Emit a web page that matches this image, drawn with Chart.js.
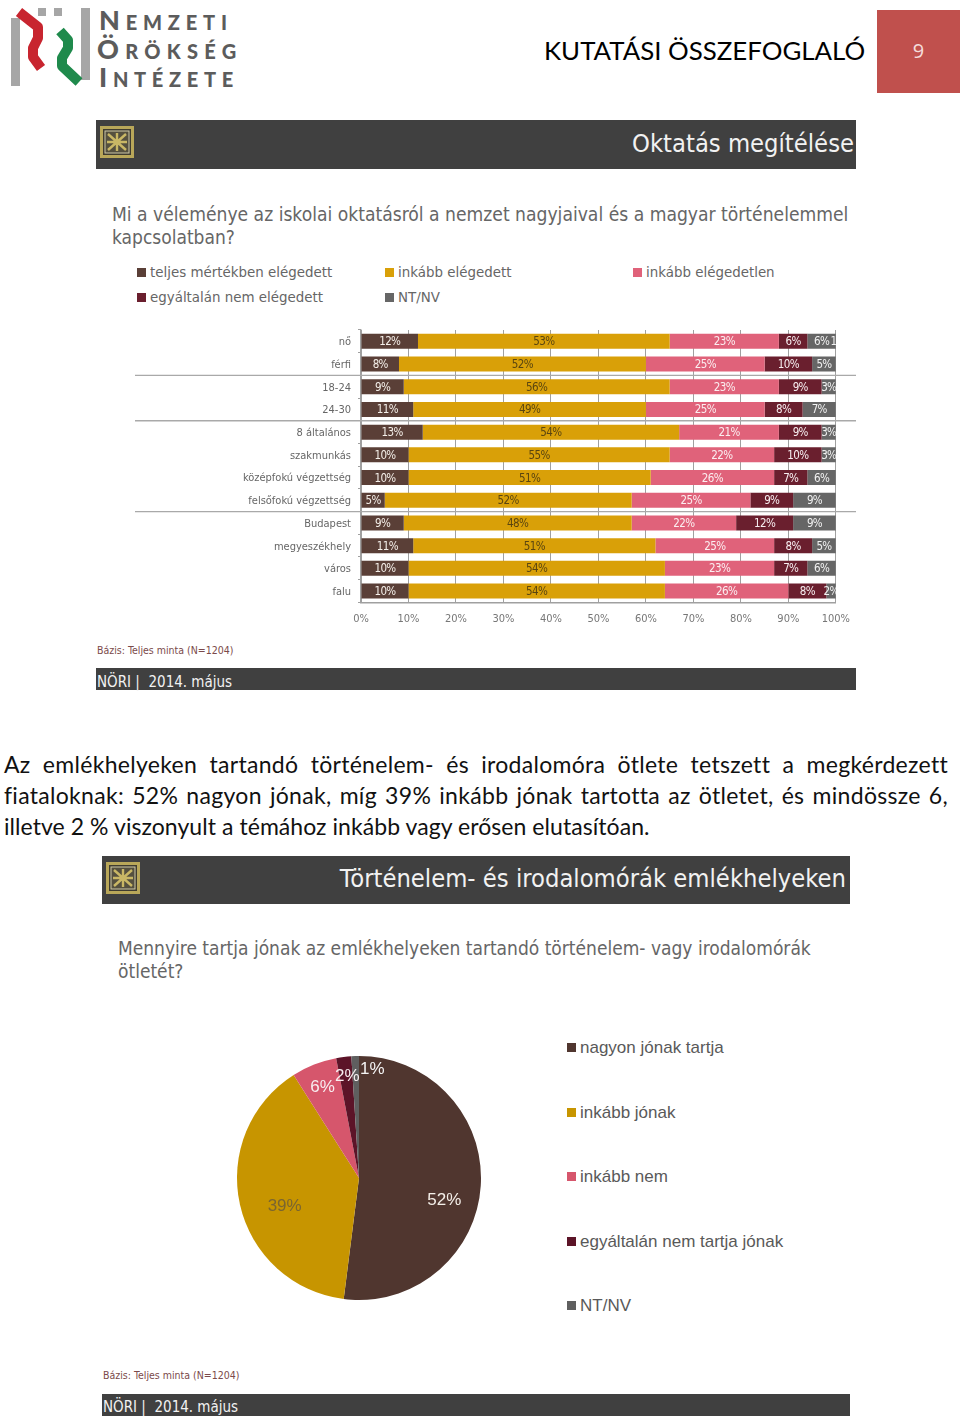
<!DOCTYPE html>
<html lang="hu">
<head>
<meta charset="utf-8">
<title>Kutatási összefoglaló</title>
<script src="https://cdn.jsdelivr.net/npm/chart.js@4"></script>
<style>
html, body { margin: 0; padding: 0; background: #fff; }
#page { position: relative; width: 960px; height: 1416px; overflow: hidden; font-family: "DejaVu Sans Condensed", "DejaVu Sans", sans-serif; }
#page > * { position: absolute; }
.t { white-space: nowrap; line-height: 1; }
.bar { background: #404040; }
.title { color: #f2f2f2; font-size: 25.3px; }
.question { color: #666; font-size: 19px; }
.foot { color: #f2f2f2; font-size: 15px; }
.base { color: #7b4a4a; font-size: 10.5px; }
.line { left: 4px; width: 944px; font-family: Lato, sans-serif; font-size: 23px; color: #111; text-align: justify; text-align-last: justify; white-space: normal; letter-spacing: .3px; }
.last { left: 4px; font-family: Lato, sans-serif; font-size: 23px; color: #111; letter-spacing: .06px; }
.leg { color: #666; font-size: 14.9px; }
.legp { color: #595959; font-size: 17px; font-family: "Liberation Sans", Arial, sans-serif; }
.sw { width: 9px; height: 9px; }
.logo { color: #5c5c5c; font-family: Lato, sans-serif; font-weight: 900; font-size: 20px; }
.logo b { font-size: 27px; font-weight: 900; }
</style>
</head>
<body>
<div id="page">
  <svg style="left:0;top:0" width="100" height="95">
    <g fill="#a6a6a6">
      <rect x="11" y="18" width="9" height="68"/>
      <rect x="81" y="8" width="9" height="72"/>
      <rect x="38" y="8" width="8" height="8"/>
      <rect x="54" y="8" width="8" height="8"/>
    </g>
    <polyline points="19,12 38,27 38,38 33,48 33,57 41,68" fill="none" stroke="#c8252f" stroke-width="10" stroke-linejoin="round"/>
    <polyline points="60,31 68,40 68,48 62,58 62,66 79,82" fill="none" stroke="#1f8a4c" stroke-width="10" stroke-linejoin="round"/>
  </svg>
  <div class="t logo" style="left:99px;top:6px;letter-spacing:5.8px"><b>N</b>EMZETI</div>
  <div class="t logo" style="left:97px;top:35px;letter-spacing:6.3px"><b>Ö</b>RÖKSÉG</div>
  <div class="t logo" style="left:99px;top:63px;letter-spacing:5.7px"><b>I</b>NTÉZETE</div>

  <div class="t" style="left:544px;top:38px;font-family:Lato,sans-serif;font-size:25.85px;color:#000">KUTATÁSI ÖSSZEFOGLALÓ</div>
  <div style="left:877px;top:10px;width:83px;height:83px;background:#c0504d"></div>
  <div class="t" style="left:877px;top:41px;width:83px;text-align:center;color:#f5dcdc;font-family:'Open Sans',sans-serif;font-size:20px">9</div>

  <div class="bar" style="left:96px;top:120px;width:760px;height:49px"></div>
  <svg style="left:100px;top:126px" width="34" height="32"><use href="#icon"/></svg>
  <div class="t title" style="right:106px;top:131px">Oktatás megítélése</div>
  <div class="t question" style="left:112px;top:205px;font-size:19.13px">Mi a véleménye az iskolai oktatásról a nemzet nagyjaival és a magyar történelemmel</div>
  <div class="t question" style="left:112px;top:228px">kapcsolatban?</div>
  <div id="legend1" style="left:0;top:0"></div>
  <canvas id="barChart" width="730" height="310" style="left:130px;top:325px"></canvas>
  <div class="t base" style="left:97px;top:645px">Bázis: Teljes minta (N=1204)</div>
  <div class="bar" style="left:96px;top:668px;width:760px;height:22px"></div>
  <div class="t foot" style="left:97px;top:675px">NÖRI |&nbsp; 2014. május</div>

  <div class="t line" style="top:753px">Az emlékhelyeken tartandó történelem- és irodalomóra ötlete tetszett a megkérdezett</div>
  <div class="t line" style="top:784px">fiataloknak: 52% nagyon jónak, míg 39% inkább jónak tartotta az ötletet, és mindössze 6,</div>
  <div class="t last" style="top:815px">illetve 2 % viszonyult a témához inkább vagy erősen elutasítóan.</div>

  <div class="bar" style="left:102px;top:856px;width:748px;height:48px"></div>
  <svg style="left:106px;top:862px" width="34" height="32"><use href="#icon"/></svg>
  <div class="t title" style="right:114px;top:866px">Történelem- és irodalomórák emlékhelyeken</div>
  <div class="t question" style="left:118px;top:939px">Mennyire tartja jónak az emlékhelyeken tartandó történelem- vagy irodalomórák</div>
  <div class="t question" style="left:118px;top:962px">ötletét?</div>
  <canvas id="pieChart" width="300" height="300" style="left:209px;top:1028px"></canvas>
  <div id="legend2" style="left:0;top:0"></div>
  <div class="t base" style="left:103px;top:1370px">Bázis: Teljes minta (N=1204)</div>
  <div class="bar" style="left:102px;top:1394px;width:748px;height:22px"></div>
  <div class="t foot" style="left:103px;top:1400px">NÖRI |&nbsp; 2014. május</div>

  <svg width="0" height="0" style="left:0;top:0">
    <defs>
      <g id="icon">
        <rect x="1.5" y="1.5" width="31" height="29" fill="#403c30" stroke="#b9a759" stroke-width="3"/>
        <rect x="5" y="5" width="24" height="22" fill="#55503f" stroke="#cfc9a8" stroke-width="1"/>
        <path d="M8 8l18 16M26 8L8 24M17 7v18M7 16h20" stroke="#c9b765" stroke-width="2.4"/>
      </g>
    </defs>
  </svg>
</div>

<script>
const groups = ['nő', 'férfi', '18-24', '24-30', '8 általános', 'szakmunkás', 'középfokú végzettség', 'felsőfokú végzettség', 'Budapest', 'megyeszékhely', 'város', 'falu'];
const barLegend = ['teljes mértékben elégedett', 'inkább elégedett', 'inkább elégedetlen', 'egyáltalán nem elégedett', 'NT/NV'];
const teljes = [12, 8, 9, 11, 13, 10, 10, 5, 9, 11, 10, 10];
const inkabb = [53, 52, 56, 49, 54, 55, 51, 52, 48, 51, 54, 54];
const elegedetlen = [23, 25, 23, 25, 21, 22, 26, 25, 22, 25, 23, 26];
const egyaltalan = [6, 10, 9, 8, 9, 10, 7, 9, 12, 8, 7, 8];
const ntnv = [6, 5, 3, 7, 3, 3, 6, 9, 9, 5, 6, 2];
// the first row adds up to 101, its last 1% hangs over the edge of the plot
const tullog = [1, 0, 0, 0, 0, 0, 0, 0, 0, 0, 0, 0];
const xTicks = [0, 10, 20, 30, 40, 50, 60, 70, 80, 90, 100];
const separators = [1, 3, 7];

const pieLabels = ['nagyon jónak tartja', 'inkább jónak', 'inkább nem', 'egyáltalán nem tartja jónak', 'NT/NV'];
const pieValues = [52, 39, 6, 2, 1];

const barColors = ['#5a3f37', '#d9a008', '#e0627a', '#6a1f2e', '#666666'];
const barTextColors = ['#f4efe9', '#5a4510', '#fbeef0', '#f7eef0', '#f2f2f2'];
const pieColors = ['#50362f', '#c79500', '#d6566c', '#5c1428', '#5f5f5f'];
const pieTextColors = ['#f4efe9', '#7a6530', '#f8eef0', '#f8eef0', '#f4f4f4'];
const pieNudge = [[0, 17], [9, 10], [-5, -11], [-1, -17], [16, -23]];

const slideFont = '"DejaVu Sans Condensed", "DejaVu Sans", sans-serif';

const addLegend = (holder, text, color, x, y, cls, textTop) => {
    const sw = document.createElement('div');
    sw.className = 'sw';
    sw.style.cssText = 'position:absolute;background:' + color + ';left:' + x + 'px;top:' + (y - 4.5) + 'px';
    holder.appendChild(sw);
    const label = document.createElement('div');
    label.className = 't ' + cls;
    label.textContent = text;
    label.style.cssText = 'position:absolute;left:' + (x + 13) + 'px;top:' + (y - textTop) + 'px';
    holder.appendChild(label);
}

const legendX = [137, 385, 633, 137, 385];
const legendY = [272, 272, 272, 297, 297];
barLegend.forEach((text, i) => addLegend(document.getElementById('legend1'), text, barColors[i], legendX[i], legendY[i], 'leg', 7));
const pieLegendY = [1047, 1112, 1176, 1241, 1305];
pieLabels.forEach((text, i) => addLegend(document.getElementById('legend2'), text, pieColors[i], 567, pieLegendY[i], 'legp', 8));

const rowLines = {
    id: 'rowLines',
    afterDraw(chart) {
        const { ctx, scales: { y } } = chart;
        ctx.save();
        ctx.strokeStyle = '#a9a9a9';
        ctx.lineWidth = 1.4;
        separators.forEach(i => {
            const pos = (y.getPixelForValue(i) + y.getPixelForValue(i + 1)) / 2;
            ctx.beginPath();
            ctx.moveTo(5, pos);
            ctx.lineTo(726, pos);
            ctx.stroke();
        });
        ctx.restore();
    }
};

const barValues = {
    id: 'barValues',
    afterDatasetsDraw(chart) {
        const { ctx, chartArea } = chart;
        ctx.save();
        ctx.beginPath();
        ctx.rect(chartArea.left, chartArea.top, chartArea.width, chartArea.height);
        ctx.clip();
        ctx.font = '11.5px ' + slideFont;
        ctx.letterSpacing = '-0.6px';
        ctx.textAlign = 'center';
        ctx.textBaseline = 'middle';
        chart.data.datasets.forEach((ds, d) => {
            chart.getDatasetMeta(d).data.forEach((bar, i) => {
                if (!ds.data[i]) return;
                ctx.fillStyle = barTextColors[d] || '#f2f2f2';
                ctx.fillText(ds.data[i] + '%', (bar.base + bar.x) / 2, bar.y + 1);
            });
        });
        ctx.restore();
    }
};

const series = [teljes, inkabb, elegedetlen, egyaltalan, ntnv, tullog];

new Chart(document.getElementById('barChart'), {
    type: 'bar',
    data: {
        labels: groups,
        datasets: series.map((values, i) => ({
            label: barLegend[i] || '',
            data: values,
            backgroundColor: barColors[i] || '#666666',
            barPercentage: 1,
            categoryPercentage: 0.66
        }))
    },
    options: {
        indexAxis: 'y',
        responsive: false,
        animation: false,
        layout: { padding: { top: 5, right: 24, left: 0, bottom: 0 } },
        plugins: { legend: { display: false }, tooltip: { enabled: false } },
        scales: {
            x: {
                stacked: true,
                min: 0,
                max: 100,
                afterBuildTicks: axis => { axis.ticks = xTicks.map(value => ({ value })); },
                afterFit: axis => { axis.height = 32.6; },
                grid: { color: '#a0a0a0', lineWidth: 1, tickLength: 0, drawTicks: false },
                border: { color: '#a0a0a0', width: 1.4 },
                ticks: { color: '#777', padding: 10, maxRotation: 0, font: { family: slideFont, size: 11 }, callback: v => v + '%' }
            },
            y: {
                stacked: true,
                afterFit: axis => { axis.width = 231; axis.paddingTop = 0; axis.paddingBottom = 0; },
                grid: { drawOnChartArea: false, color: '#a0a0a0', tickLength: 3 },
                border: { color: '#a0a0a0', width: 1.4 },
                ticks: { color: '#666', padding: 7, labelOffset: 1, autoSkip: false, font: { family: slideFont, size: 11 } }
            }
        }
    },
    plugins: [barValues, rowLines]
});

const pieValuesText = {
    id: 'pieValuesText',
    afterDatasetsDraw(chart) {
        const { ctx } = chart;
        ctx.save();
        ctx.font = '17px "Liberation Sans", Arial, sans-serif';
        ctx.textAlign = 'center';
        ctx.textBaseline = 'middle';
        chart.getDatasetMeta(0).data.forEach((arc, i) => {
            const mid = (arc.startAngle + arc.endAngle) / 2;
            const x = arc.x + Math.cos(mid) * arc.outerRadius * 0.7 + pieNudge[i][0];
            const y = arc.y + Math.sin(mid) * arc.outerRadius * 0.7 + pieNudge[i][1];
            ctx.fillStyle = pieTextColors[i];
            ctx.fillText(pieValues[i] + '%', x, y);
        });
        ctx.restore();
    }
};

new Chart(document.getElementById('pieChart'), {
    type: 'pie',
    data: {
        labels: pieLabels,
        datasets: [{ data: pieValues, backgroundColor: pieColors, borderWidth: 0 }]
    },
    options: {
        responsive: false,
        animation: false,
        radius: 122,
        layout: { padding: 0 },
        plugins: { legend: { display: false }, tooltip: { enabled: false } }
    },
    plugins: [pieValuesText]
});
</script>
</body>
</html>
